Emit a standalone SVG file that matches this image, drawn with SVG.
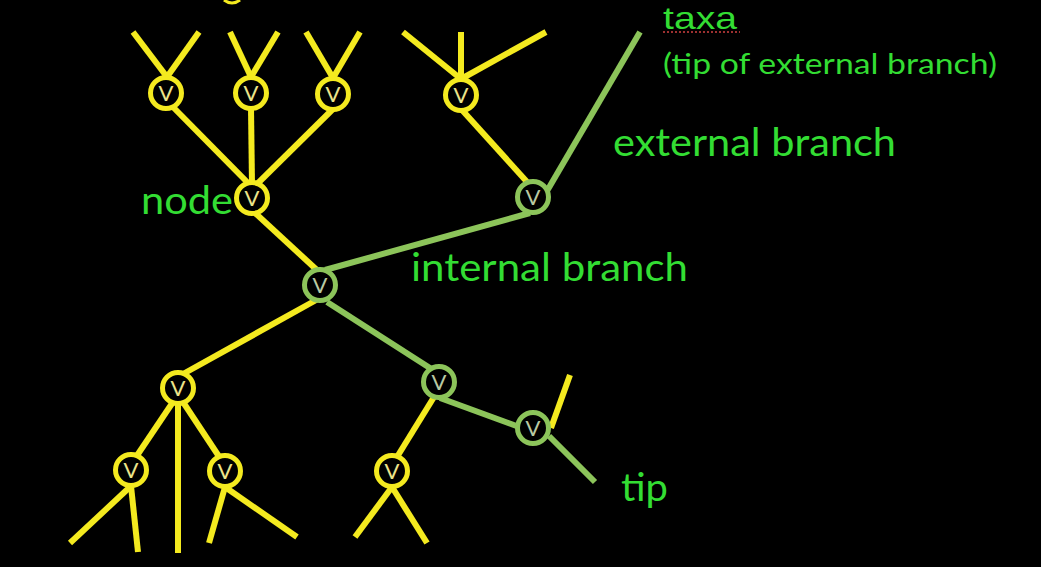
<svg xmlns="http://www.w3.org/2000/svg" width="1041" height="567" viewBox="0 0 1041 567">
<style>
.y{stroke:#f4ea1f;stroke-width:6;fill:none;stroke-linecap:butt}
.g{stroke:#8cc45a;stroke-width:6;fill:none}
.ny{fill:#000;stroke:#f4ea1f;stroke-width:5}
.ng{fill:#000;stroke:#8cc45a;stroke-width:5}
.vy{font-family:Lato,"Liberation Sans",sans-serif;font-size:22px;fill:#ece48a;text-anchor:middle}
.vg{font-family:Lato,"Liberation Sans",sans-serif;font-size:22px;fill:#b9c9a3;text-anchor:middle}
.lb{font-family:Lato,"Noto Sans","Liberation Sans",sans-serif;fill:#33dd33}
</style>
<rect width="1041" height="567" fill="#000"/>
<path d="M224,0 Q232,6 240,0" stroke="#f4ea1f" stroke-width="3" fill="none"/>
<g id="connectors">
<line class="y" x1="133" y1="32" x2="167" y2="77"/>
<line class="y" x1="199" y1="32" x2="167" y2="77"/>
<line class="y" x1="230" y1="32" x2="251" y2="77"/>
<line class="y" x1="278" y1="32" x2="251" y2="77"/>
<line class="y" x1="306" y1="32" x2="333" y2="78"/>
<line class="y" x1="360" y1="32" x2="333" y2="78"/>
<line class="y" x1="403" y1="32" x2="461" y2="79"/>
<line class="y" x1="461" y1="32" x2="461" y2="79"/>
<line class="y" x1="546" y1="32" x2="461" y2="79"/>
<line class="y" x1="170" y1="104" x2="252" y2="187"/>
<line class="y" x1="251" y1="108" x2="252" y2="185"/>
<line class="y" x1="333" y1="109" x2="254" y2="187"/>
<line class="y" x1="254" y1="212" x2="318" y2="271"/>
<line class="y" x1="462" y1="110" x2="528" y2="183"/>
<line class="y" x1="318" y1="299" x2="183" y2="374"/>
<line class="y" x1="173" y1="402" x2="136" y2="457"/>
<line class="y" x1="178" y1="404" x2="178" y2="553"/>
<line class="y" x1="183" y1="402" x2="220" y2="458"/>
<line class="y" x1="131" y1="486" x2="70" y2="543"/>
<line class="y" x1="131" y1="486" x2="138" y2="552"/>
<line class="y" x1="225" y1="487" x2="209" y2="543"/>
<line class="y" x1="225" y1="487" x2="297" y2="537"/>
<line class="y" x1="434" y1="397" x2="397" y2="457"/>
<line class="y" x1="392" y1="487" x2="355" y2="537"/>
<line class="y" x1="392" y1="487" x2="427" y2="543"/>
<line class="y" x1="551" y1="428" x2="570" y2="375"/>
<line class="g" x1="325" y1="270" x2="530" y2="213"/>
<line class="g" x1="547" y1="191" x2="640" y2="32"/>
<line class="g" x1="327" y1="302" x2="433" y2="370"/>
<line class="g" x1="440" y1="398" x2="522" y2="428"/>
<line class="g" x1="549" y1="436" x2="595" y2="482"/>
</g>
<g id="nA"><circle class="ny" cx="166" cy="93" r="15.5"/><text class="vy" x="166" y="101">V</text></g>
<g id="nB"><circle class="ny" cx="251" cy="93" r="15.5"/><text class="vy" x="251" y="101">V</text></g>
<g id="nC"><circle class="ny" cx="333" cy="94" r="15.5"/><text class="vy" x="333" y="102">V</text></g>
<g id="nG"><circle class="ny" cx="461" cy="95" r="15.5"/><text class="vy" x="461" y="103">V</text></g>
<g id="nD"><circle class="ny" cx="252" cy="198" r="15.5"/><text class="vy" x="252" y="206">V</text></g>
<g id="nF"><circle class="ng" cx="533" cy="197" r="15.5"/><text class="vg" x="533" y="205">V</text></g>
<g id="nE"><circle class="ng" cx="320" cy="285" r="15.5"/><text class="vg" x="320" y="293">V</text></g>
<g id="nH"><circle class="ny" cx="178" cy="388" r="15.5"/><text class="vy" x="178" y="396">V</text></g>
<g id="nI"><circle class="ng" cx="439" cy="382" r="15.5"/><text class="vg" x="439" y="390">V</text></g>
<g id="nJ"><circle class="ng" cx="533" cy="428" r="15.5"/><text class="vg" x="533" y="436">V</text></g>
<g id="nL"><circle class="ny" cx="131" cy="470" r="15.5"/><text class="vy" x="131" y="478">V</text></g>
<g id="nM"><circle class="ny" cx="225" cy="471" r="15.5"/><text class="vy" x="225" y="479">V</text></g>
<g id="nK"><circle class="ny" cx="392" cy="471" r="15.5"/><text class="vy" x="392" y="479">V</text></g>
<g id="labels">
<text x="663" y="29" font-family="'Liberation Sans',sans-serif" font-size="32" fill="#33dd33" textLength="74" lengthAdjust="spacingAndGlyphs">taxa</text>
<line x1="663" y1="32" x2="740" y2="32" stroke="#d04040" stroke-width="1.5" stroke-dasharray="2,2"/>
<text class="lb" x="663" y="74" font-size="28" textLength="334" lengthAdjust="spacingAndGlyphs">(tip of external branch)</text>
<text class="lb" x="613" y="156" font-size="38" textLength="283" lengthAdjust="spacingAndGlyphs">external branch</text>
<text class="lb" x="141" y="214" font-size="38" textLength="92" lengthAdjust="spacingAndGlyphs">node</text>
<text class="lb" x="411" y="281" font-size="38" textLength="277" lengthAdjust="spacingAndGlyphs">internal branch</text>
<text class="lb" x="621" y="501" font-size="38" textLength="47" lengthAdjust="spacingAndGlyphs">tip</text>
</g>
</svg>
